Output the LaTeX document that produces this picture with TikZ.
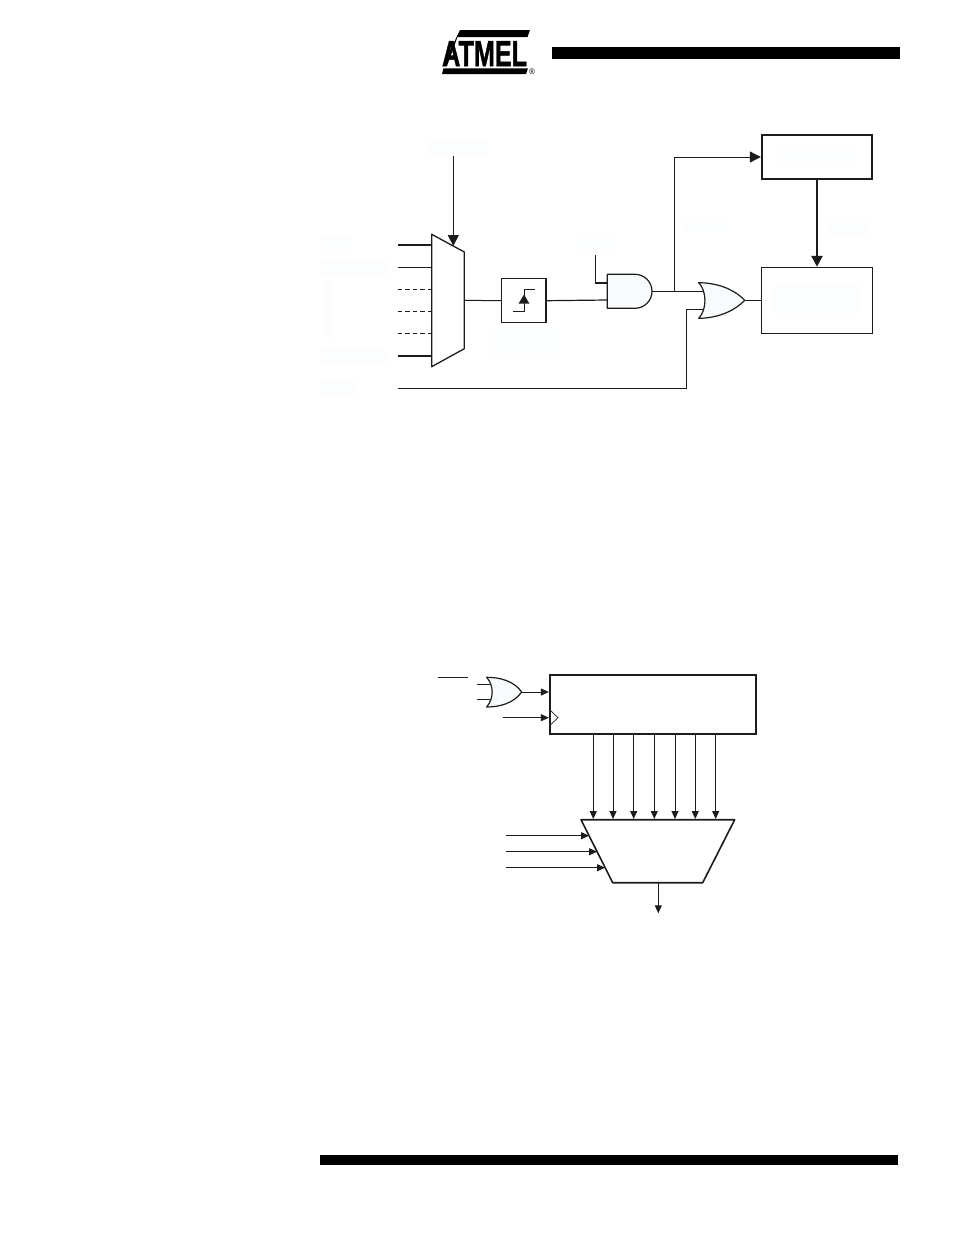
\documentclass[tikz,border=0pt]{standalone}
\usepackage{fontspec}
\setmainfont{Liberation Sans}
\newfontfamily\logofont[BoldFeatures={FakeBold=1.5}]{Liberation Sans}
\usepackage{xcolor}
\usetikzlibrary{arrows.meta,calc,positioning}
\definecolor{ink}{HTML}{1C1C1C}
\definecolor{wash}{HTML}{FBFDFE}
\definecolor{gatewash}{HTML}{F8FBFC}
\tikzset{
  wire/.style={ink,line width=1pt},
  thickwire/.style={ink,line width=1.6pt},
  boldwire/.style={ink,line width=2.5pt},
  dashwire/.style={ink,line width=0.9pt,dash pattern=on 4.5pt off 3pt},
  head/.style={-{Triangle[length=11pt,width=11pt]}},
  smallhead/.style={-{Triangle[length=8pt,width=7pt]}},
  box/.style={draw=ink,fill=white,rectangle,inner sep=0pt},
  gate/.style={draw=ink,fill=gatewash,line width=1.2pt,line join=round},
  mux/.style={draw=ink,line width=1.3pt,line join=round}
}
\begin{document}
\begin{tikzpicture}[x=1pt,y=-1pt]
\useasboundingbox (0,0) rectangle (954,1235);
\fill[white] (0,0) rectangle (954,1235);
\foreach \xa/\ya/\xb/\yb in {427/139/488/155,321/237/352/254,321/259/387/277,326/280/331/340,321/349/387/365,320/381/357/397,489/328/560/359,575/238/617/255,686/217/728/232,826/217/870/235}
  \fill[wash] (\xa,\ya) rectangle (\xb,\yb);
% header
\fill[black] (552,47) rectangle (900,59);
\fill[black] (320,1155) rectangle (898,1165);
\fill[black] (442,74)--(443.5,68.3)--(528,68.3)--(526,74)--cycle;
\fill[black] (460,30)--(530,30)--(527.5,37)--(457.5,37)--(447,66)--(442.5,66)--cycle;
\node[font=\logofont\bfseries\fontsize{36}{36}\selectfont,xscale=0.7,inner sep=0pt,anchor=base west] (logo) at (442,66) {ATMEL};
\node[font=\fontsize{8}{8}\selectfont,inner sep=0pt] (mark) at (532,71.7) {®};
% mux
\draw[mux,fill=white] (431.7,234.3)--(464.3,252)--(464.3,348.7)--(431.7,366.7)--cycle;
\coordinate (muxout) at (464.3,300.3);
\coordinate (muxsel) at (453.3,246);
\coordinate (seltop) at (453.3,156);
\draw[wire,head] (seltop)--(muxsel);
\coordinate (ina) at (397.7,245);
\coordinate (ina') at (431.7,245);
\coordinate (inb) at (397.7,267.3);
\coordinate (inb') at (431.7,267.3);
\coordinate (inc) at (397.7,289.3);
\coordinate (inc') at (431.7,289.3);
\coordinate (ind) at (397.7,311.3);
\coordinate (ind') at (431.7,311.3);
\coordinate (ine) at (397.7,333.3);
\coordinate (ine') at (431.7,333.3);
\coordinate (inf) at (397.7,356);
\coordinate (inf') at (431.7,356);
\draw[thickwire] (ina)--(ina');
\draw[wire] (inb)--(inb');
\draw[dashwire] (inc)--(inc');
\draw[dashwire] (ind)--(ind');
\draw[dashwire] (ine)--(ine');
\draw[thickwire] (inf)--(inf');
% edge detect
\node[box,line width=1.5pt,minimum width=44.3pt,minimum height=44pt] (edge) at (523.8,300.7) {};
\draw[wire] (muxout)--(edge.west);
\draw[wire] (513,311.3)--(524,311.3)--(524,289.3)--(535,289.3);
\fill[ink] (524,294.5)--(529.5,303.7)--(518.5,303.7)--cycle;
% gates
\draw[gate] (607.3,274.3)--(635,274.3) arc[start angle=-90,end angle=90,radius=17]--(607.3,308.3)--cycle;
\coordinate (anda) at (607.3,283);
\coordinate (andb) at (607.3,300);
\coordinate (andout) at (651.7,291.3);
\coordinate (enable) at (595.7,255);
\draw[ink,line width=1.2pt] (enable)|-(anda);
\draw[ink,line width=1.2pt] (edge.east)--(andb);
\draw[gate] (698.7,282.7) .. controls (715,282.7) and (733,288) .. (744.7,300.3) .. controls (733,312.5) and (715,318.3) .. (698.7,318.3) .. controls (707,310) and (707,291) .. (698.7,282.7)--cycle;
\coordinate (ora) at (703.5,291.3);
\coordinate (orb) at (703.5,309.3);
\coordinate (orout) at (744.7,300.3);
\coordinate (branch) at (674.3,291.3);
\draw[wire] (andout)--(branch);
\draw[thickwire] (branch)--(ora);
\coordinate (direct) at (397.7,388.7);
\draw[ink,line width=1.2pt] (direct)-|(686.7,309.3)--(orb);
% boxes
\node[box,line width=1.8pt,minimum width=110.6pt,minimum height=44pt] (prescale) at (817,157) {};
\node[box,line width=1pt,minimum width=110.6pt,minimum height=66pt] (target) at (817,300.3) {};
\fill[wash] (777,150) rectangle (857,166);
\fill[wash] (774,285) rectangle (860,314);
\draw[wire,head] (branch)|-(prescale.west);
\draw[boldwire,head] (prescale.south)--(target.north);
\draw[wire] (orout)--(orout-|target.west);
% counter
\node[box,line width=1.7pt,minimum width=206pt,minimum height=59.3pt] (counter) at (652.7,704.3) {};
\coordinate (overbar) at (438,677.3);
\coordinate (overbar') at (467.7,677.3);
\draw[wire] (overbar)--(overbar');
\draw[gate] (486.7,677.3) .. controls (500,677.3) and (514,681) .. (521.7,692) .. controls (514,703) and (500,707) .. (486.7,707) .. controls (494,698) and (494,686) .. (486.7,677.3)--cycle;
\coordinate (clra) at (477.3,684.3);
\coordinate (clra') at (490.3,684.3);
\coordinate (clrb) at (477.3,699);
\coordinate (clrb') at (490.3,699);
\draw[wire] (clra)--(clra');
\draw[wire] (clrb)--(clrb');
\coordinate (clrout) at (521.7,692);
\draw[wire,smallhead] (clrout)--(clrout-|counter.west);
\coordinate (clk) at (503.3,717.7);
\draw[wire,smallhead] (clk)--(clk-|counter.west);
\draw[ink,line width=0.7pt] (551,711)--(558,717.7)--(551,724.3);
% output mux
\draw[mux,line width=1.6pt] (581,819.7)--(734.7,819.7)--(702.7,882.7)--(612.7,882.7)--cycle;
\foreach \n/\x in {a/593.3,b/613,c/633.7,d/654.3,e/675,f/695.3,g/715.7}{
  \coordinate (cnt\n) at (\x,734);
  \coordinate (sel\n) at (\x,819);
  \draw[wire,smallhead] (cnt\n)--(sel\n);
}
\foreach \n/\y/\x in {a/835.7/589,b/851.7/597,c/867.7/605}{
  \coordinate (adr\n) at (506,\y);
  \coordinate (adr\n') at (\x,\y);
  \draw[wire,smallhead] (adr\n)--(adr\n');
}
\coordinate (outa) at (658.3,882.7);
\coordinate (outb) at (658.3,913.3);
\draw[wire,smallhead] (outa)--(outb);
\end{tikzpicture}
\end{document}
